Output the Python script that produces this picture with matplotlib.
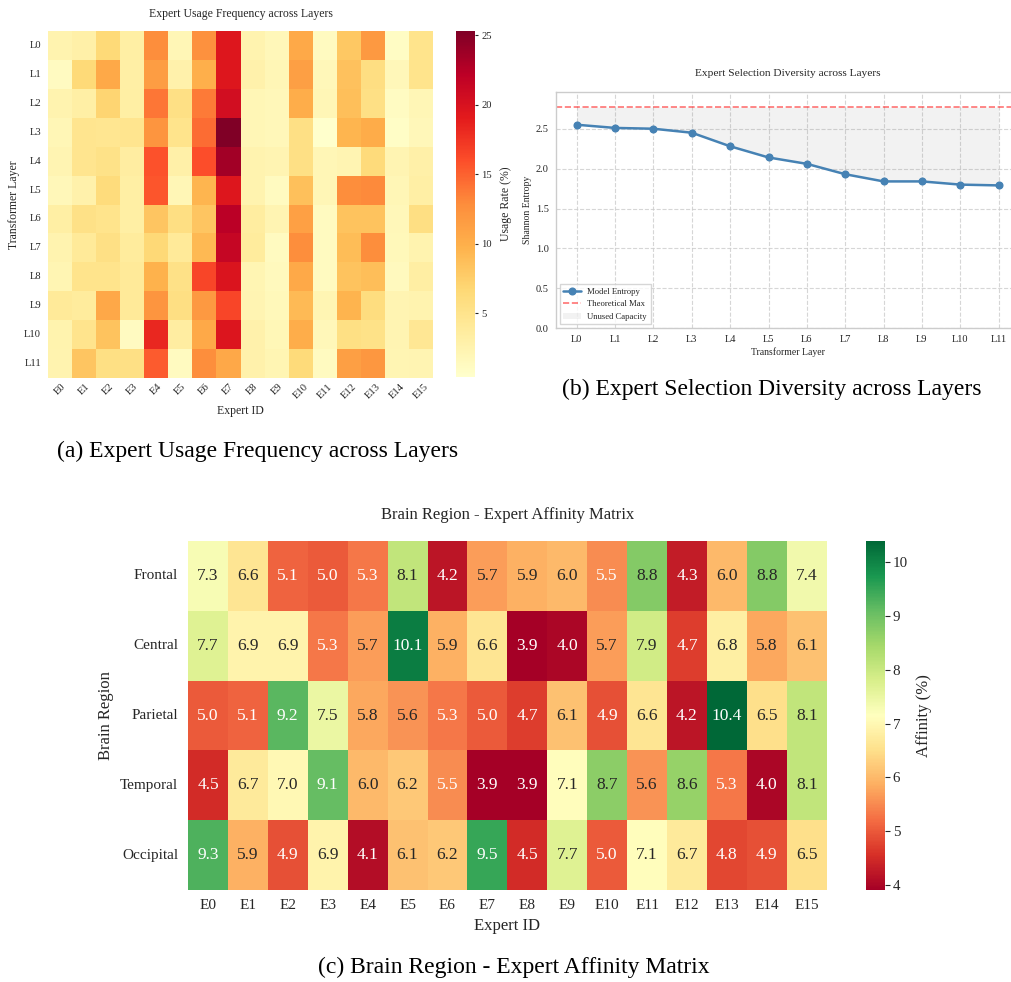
import numpy as np
import matplotlib
matplotlib.use("Agg")
import matplotlib.pyplot as plt
import seaborn as sns
from matplotlib.patches import Patch
from matplotlib.lines import Line2D

# ---------------- data ----------------
layers = ["L0", "L1", "L2", "L3", "L4", "L5", "L6", "L7", "L8", "L9", "L10", "L11"]
experts = ["E0", "E1", "E2", "E3", "E4", "E5", "E6", "E7",
           "E8", "E9", "E10", "E11", "E12", "E13", "E14", "E15"]

# usage rate (%) of each expert per transformer layer
usage_rate = [
    [2.5, 3.0, 6.5, 3.3, 12.8, 2.0, 12.5, 19.5, 2.5, 1.8, 10.5, 1.3, 8.0, 11.8, 1.0, 5.0],
    [1.2, 6.5, 10.5, 3.2, 11.5, 2.8, 10.0, 19.5, 2.8, 2.0, 11.3, 1.8, 8.5, 5.8, 1.8, 5.0],
    [2.5, 3.2, 7.0, 3.3, 14.0, 5.5, 13.8, 20.5, 2.0, 1.8, 10.2, 2.0, 8.7, 5.5, 1.1, 2.0],
    [2.0, 4.8, 4.6, 4.8, 12.2, 5.0, 14.5, 25.3, 2.0, 1.8, 5.5, 0.4, 9.5, 10.3, 0.8, 1.8],
    [2.3, 4.8, 5.3, 3.5, 15.8, 3.0, 16.0, 23.5, 2.5, 2.3, 5.5, 2.0, 2.3, 6.3, 2.3, 3.0],
    [1.8, 2.8, 6.2, 3.3, 15.6, 2.0, 9.5, 19.5, 2.5, 1.3, 8.6, 2.0, 12.8, 13.0, 2.0, 3.2],
    [3.3, 5.4, 5.0, 3.3, 8.2, 5.7, 8.2, 22.2, 3.6, 2.3, 11.2, 1.3, 8.4, 8.4, 1.8, 5.7],
    [2.5, 4.0, 5.5, 3.8, 6.6, 4.0, 9.2, 21.5, 3.8, 1.3, 12.8, 1.3, 8.9, 12.8, 1.7, 2.5],
    [2.2, 5.0, 5.0, 4.0, 9.8, 5.4, 16.5, 19.8, 2.2, 1.5, 10.5, 1.3, 8.4, 8.8, 1.4, 3.4],
    [4.0, 3.8, 10.6, 4.0, 12.2, 5.7, 11.8, 16.5, 2.3, 1.7, 9.1, 2.2, 9.6, 6.0, 2.3, 2.5],
    [2.6, 4.9, 8.4, 1.2, 18.2, 3.5, 10.5, 19.6, 2.8, 1.9, 10.2, 1.8, 5.6, 5.3, 2.3, 4.4],
    [2.5, 8.2, 5.6, 5.5, 15.3, 1.3, 12.8, 10.6, 2.8, 2.2, 6.4, 1.3, 11.3, 12.0, 2.2, 2.3],
]

# Shannon entropy of the routing distribution per layer
entropy = [2.55, 2.51, 2.50, 2.45, 2.28, 2.14, 2.06, 1.93, 1.84, 1.84, 1.80, 1.79]
max_entropy = 2.77

regions = ["Frontal", "Central", "Parietal", "Temporal", "Occipital"]
# affinity (%) of each brain region towards each expert
frontal = [7.3, 6.6, 5.1, 5.0, 5.3, 8.1, 4.2, 5.7, 5.9, 6.0, 5.5, 8.8, 4.3, 6.0, 8.8, 7.4]
central = [7.7, 6.9, 6.9, 5.3, 5.7, 10.1, 5.9, 6.6, 3.9, 4.0, 5.7, 7.9, 4.7, 6.8, 5.8, 6.1]
parietal = [5.0, 5.1, 9.2, 7.5, 5.8, 5.6, 5.3, 5.0, 4.7, 6.1, 4.9, 6.6, 4.2, 10.4, 6.5, 8.1]
temporal = [4.5, 6.7, 7.0, 9.1, 6.0, 6.2, 5.5, 3.9, 3.9, 7.1, 8.7, 5.6, 8.6, 5.3, 4.0, 8.1]
occipital = [9.3, 5.9, 4.9, 6.9, 4.1, 6.1, 6.2, 9.5, 4.5, 7.7, 5.0, 7.1, 6.7, 4.8, 4.9, 6.5]
affinity = [frontal, central, parietal, temporal, occipital]

# ---------------- style ----------------
sns.set_theme(style="whitegrid")
plt.rcParams["font.family"] = ["Liberation Serif", "DejaVu Serif"]
TXT = "#262626"

W, H = 1011, 982
fig = plt.figure(figsize=(W / 100, H / 100), dpi=100)


def box(left, top, right, bottom):
    return [left / W, 1 - bottom / H, (right - left) / W, (bottom - top) / H]


# ---------------- (a) usage heatmap ----------------
ax_a = fig.add_axes(box(48, 31, 433, 378))
cax_a = fig.add_axes(box(456, 31, 475, 377))
sns.heatmap(np.array(usage_rate), ax=ax_a, cbar_ax=cax_a, cmap="YlOrRd",
            xticklabels=experts, yticklabels=layers)
ax_a.grid(False)
ax_a.set_title("Expert Usage Frequency across Layers", fontsize=8.5, pad=10, color=TXT)
ax_a.tick_params(axis="both", length=0, labelsize=7.6, colors=TXT)
ax_a.tick_params(axis="y", pad=5)
ax_a.tick_params(axis="x", pad=3)
plt.setp(ax_a.get_xticklabels(), rotation=45)
plt.setp(ax_a.get_yticklabels(), rotation=0)
ax_a.set_xlabel("Expert ID", fontsize=8.5, color=TXT)
ax_a.set_ylabel("Transformer Layer", fontsize=8.5, color=TXT)
ax_a.xaxis.set_label_coords(0.5, -0.078)
ax_a.yaxis.set_label_coords(-0.073, 0.5)
cax_a.tick_params(labelsize=7.6, length=2.4, width=0.8, pad=2, colors=TXT)
cax_a.set_yticks([5, 10, 15, 20, 25])
cax_a.set_ylabel("Usage Rate (%)", fontsize=8.5, color=TXT, labelpad=6)

# ---------------- (b) entropy line chart ----------------
ax_b = fig.add_axes(box(555.6, 91.7, 1019.8, 328.3))
x = np.arange(len(layers))
ax_b.fill_between(x, entropy, max_entropy, color="gray", alpha=0.1, linewidth=0)
ax_b.axhline(max_entropy, color="red", alpha=0.55, linestyle="--", linewidth=1.2)
ax_b.plot(x, entropy, color="#4682b4", linewidth=1.8, marker="o", markersize=4.8)
ax_b.set_xlim(-0.55, 11.55)
ax_b.set_ylim(0, max_entropy * 1.07)
ax_b.set_xticks(x)
ax_b.set_xticklabels(layers)
ax_b.set_yticks([0.0, 0.5, 1.0, 1.5, 2.0, 2.5])
ax_b.set_yticklabels(["0.0", "0.5", "1.0", "1.5", "2.0", "2.5"])
ax_b.grid(True, linestyle="--", color="#cccccc", linewidth=0.8, alpha=0.8)
for s in ax_b.spines.values():
    s.set_color("#cccccc")
    s.set_linewidth(1.0)
ax_b.tick_params(axis="both", length=0, labelsize=7.5, colors=TXT)
ax_b.tick_params(axis="y", pad=5)
ax_b.tick_params(axis="x", pad=4.5)
ax_b.set_title("Expert Selection Diversity across Layers", fontsize=8.2, pad=11, color=TXT)
ax_b.set_xlabel("Transformer Layer", fontsize=7, color=TXT)
ax_b.set_ylabel("Shannon Entropy", fontsize=7, color=TXT)
ax_b.xaxis.set_label_coords(0.5, -0.079)
ax_b.yaxis.set_label_coords(-0.051, 0.5)
handles = [
    Line2D([0], [0], color="#4682b4", linewidth=1.8, marker="o", markersize=4.8),
    Line2D([0], [0], color="red", alpha=0.55, linestyle="--", linewidth=1.2),
    Patch(facecolor="gray", alpha=0.1, edgecolor="none"),
]
leg = ax_b.legend(handles, ["Model Entropy", "Theoretical Max", "Unused Capacity"],
                  loc="lower left", fontsize=6.2, frameon=True, fancybox=False)
leg.get_frame().set_edgecolor("#cccccc")
for t in leg.get_texts():
    t.set_color(TXT)

# ---------------- (c) affinity heatmap ----------------
ax_c = fig.add_axes(box(188, 541, 826.7, 890))
cax_c = fig.add_axes(box(866, 541, 885, 890))
sns.heatmap(np.array(affinity), ax=ax_c, cbar_ax=cax_c, cmap="RdYlGn",
            annot=True, fmt=".1f", annot_kws={"fontsize": 12.5},
            xticklabels=experts, yticklabels=regions)
ax_c.grid(False)
ax_c.set_title("Brain Region - Expert Affinity Matrix", fontsize=12, pad=16, color=TXT)
ax_c.tick_params(axis="both", length=0, labelsize=11, colors=TXT)
ax_c.tick_params(axis="y", pad=7)
ax_c.tick_params(axis="x", pad=6.5)
plt.setp(ax_c.get_xticklabels(), rotation=0)
plt.setp(ax_c.get_yticklabels(), rotation=0)
ax_c.set_xlabel("Expert ID", fontsize=12, color=TXT)
ax_c.set_ylabel("Brain Region", fontsize=12, color=TXT)
ax_c.xaxis.set_label_coords(0.5, -0.080)
ax_c.yaxis.set_label_coords(-0.116, 0.5)
cax_c.tick_params(labelsize=10.8, length=3.5, width=0.8, pad=2, colors=TXT)
cax_c.set_yticks([4, 5, 6, 7, 8, 9, 10])
cax_c.set_ylabel("Affinity (%)", fontsize=12, color=TXT, labelpad=6)

# ---------------- captions ----------------
fig.text(258 / W, 1 - 451 / H, "(a) Expert Usage Frequency across Layers",
         ha="center", va="center", fontsize=17, color="black")
fig.text(772 / W, 1 - 389 / H, "(b) Expert Selection Diversity across Layers",
         ha="center", va="center", fontsize=17, color="black")
fig.text(514 / W, 1 - 967 / H, "(c) Brain Region - Expert Affinity Matrix",
         ha="center", va="center", fontsize=17, color="black")

fig.savefig("out.png", dpi=100)
